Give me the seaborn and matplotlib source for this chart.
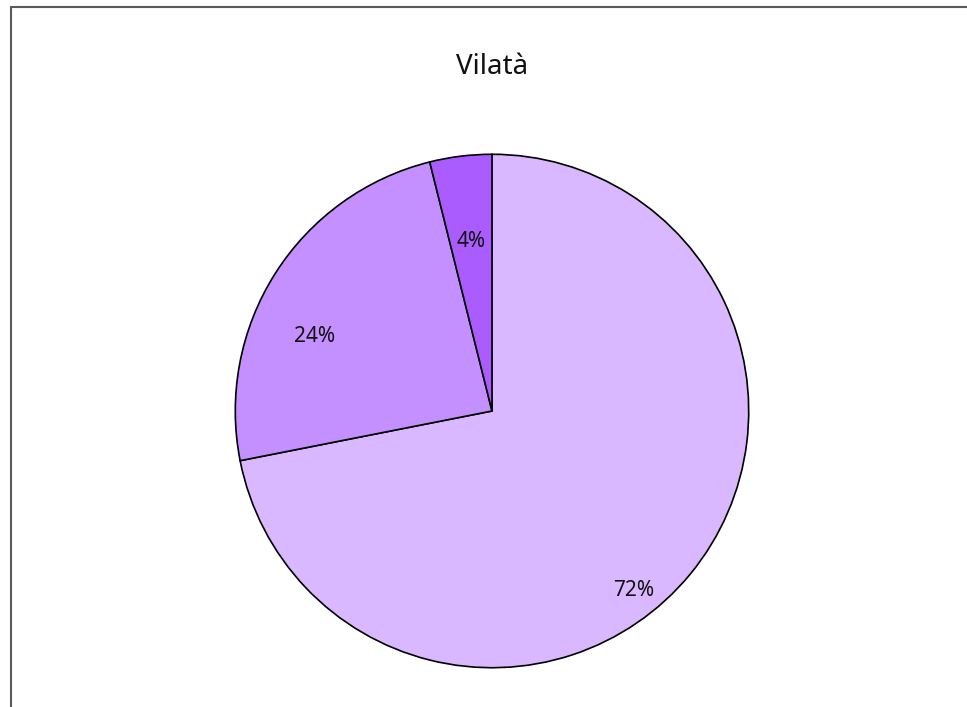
import matplotlib
matplotlib.use("Agg")
import matplotlib.pyplot as plt
from matplotlib.lines import Line2D
import seaborn as sns

# data (clockwise from 12 o'clock)
categories = ["A", "B", "C"]
shares = [71.9, 24.2, 3.9]
slice_colors = ["#DAB8FF", "#C48FFF", "#AA5CFF"]
title = "Vilatà"

# label anchor points inside each slice (unit-radius pie coords),
# the source tool places them "best fit" rather than on the bisector
label_xy = [(0.55, -0.70), (-0.69, 0.29), (-0.08, 0.66)]

sns.set_theme(style="white")
plt.rcParams["font.family"] = ["Noto Sans", "DejaVu Sans"]

W, H, DPI = 967, 707, 100
fig = plt.figure(figsize=(W / DPI, H / DPI), dpi=DPI)

# pie centre and radius in pixels
cx, cy, r = 492, 411, 258
ax = fig.add_axes([(cx - r) / W, (H - cy - r) / H, 2 * r / W, 2 * r / H])

wedges, texts, autotexts = ax.pie(
    shares,
    colors=sns.color_palette(slice_colors),
    startangle=90,
    counterclock=False,
    autopct="%.0f%%",
    wedgeprops=dict(edgecolor="black", linewidth=1.2),
    textprops=dict(fontsize=15, color="#111111"),
)
for t, xy in zip(autotexts, label_xy):
    t.set_position(xy)

ax.set_xlim(-1.005, 1.005)
ax.set_ylim(-1.005, 1.005)
ax.set_aspect("equal")
ax.axis("off")

fig.text(cx / W, 1 - 67 / H, title, ha="center", va="center", fontsize=20, color="#111111")

# outer frame (left and top edges only show in the crop)
fig.add_artist(Line2D([11 / W, 11 / W], [0, 1 - 7 / H], color="#5a5a5a", linewidth=1.5))
fig.add_artist(Line2D([11 / W, 1], [1 - 7 / H, 1 - 7 / H], color="#5a5a5a", linewidth=1.5))

fig.savefig("out.png", dpi=DPI, facecolor="white")
